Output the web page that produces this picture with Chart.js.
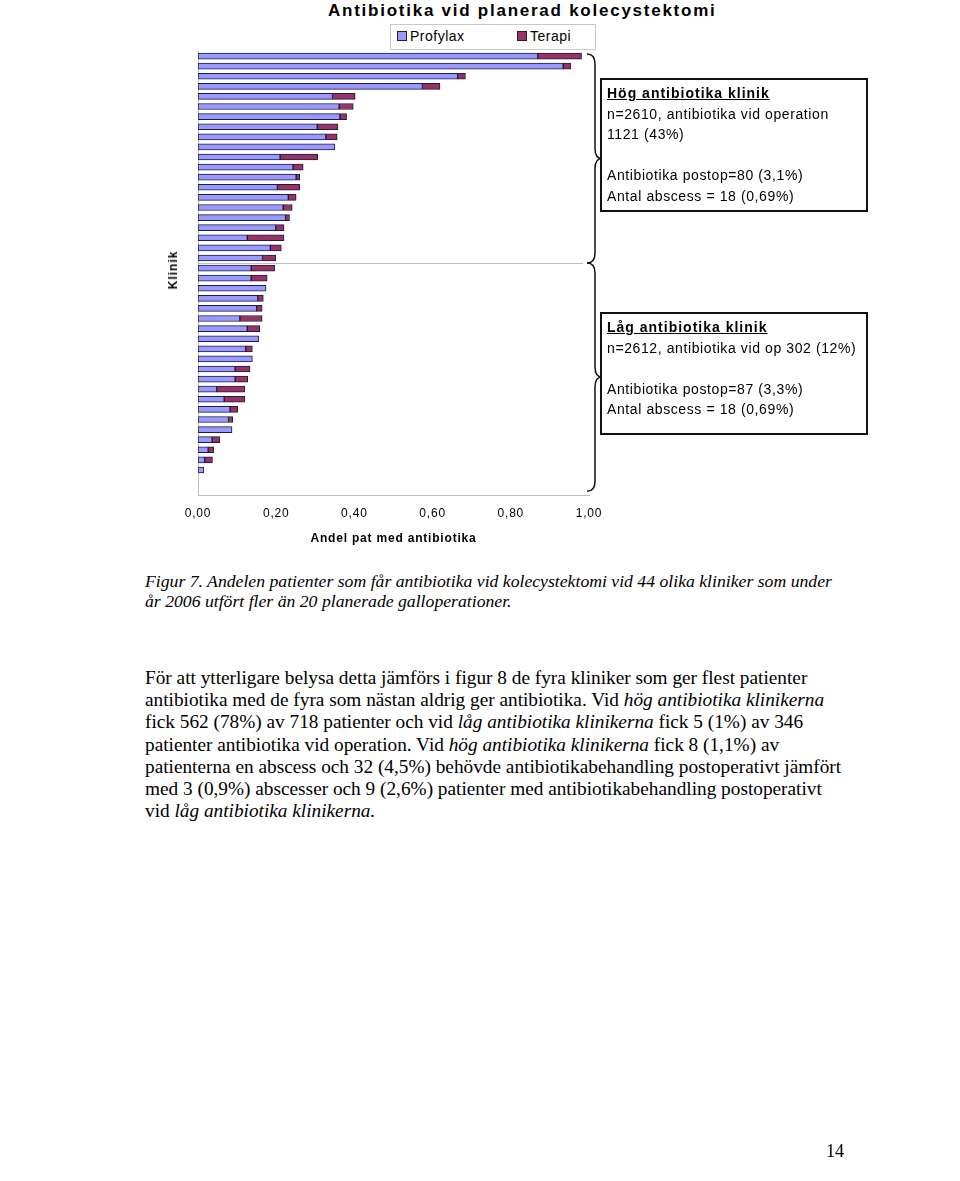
<!DOCTYPE html>
<html lang="sv">
<head>
<meta charset="UTF-8">
<title>Antibiotika vid planerad kolecystektomi</title>
<style>
    body {
        margin: 0;
        width: 960px;
        height: 1181px;
        background: #ffffff;
        position: relative;
        font-family: 'Liberation Sans', Arial, sans-serif;
        overflow: hidden;
    }

    #chartWrap {
        position: absolute;
        left: 0;
        top: 0;
        width: 960px;
        height: 560px;
    }

    .title {
        position: absolute;
        left: 328px;
        top: 1px;
        font-size: 17px;
        font-weight: bold;
        letter-spacing: 1.75px;
        white-space: nowrap;
    }

    .legend {
        position: absolute;
        left: 390px;
        top: 24px;
        width: 204px;
        height: 24px;
        border: 1px solid #c8c8c8;
        font-size: 14px;
        letter-spacing: 0.5px;
    }

    .legend span {
        position: absolute;
        top: 3px;
        white-space: nowrap;
    }

    .legend i {
        display: inline-block;
        width: 8px;
        height: 8px;
        border: 1px solid #222;
        margin-right: 3px;
        vertical-align: 0px;
    }

    .ylabel {
        position: absolute;
        left: 173px;
        top: 270px;
        transform: translate(-50%, -50%) rotate(-90deg);
        font-size: 12px;
        font-weight: bold;
        letter-spacing: 1px;
    }

    .box {
        position: absolute;
        left: 600px;
        width: 259px;
        border: 2px solid #111;
        padding: 3px 0 0 5px;
        font-size: 14px;
        line-height: 20.5px;
        letter-spacing: 0.6px;
        white-space: nowrap;
    }

    .box b {
        text-decoration: underline;
        letter-spacing: 1px;
    }

    .caption, .para {
        position: absolute;
        left: 145px;
        font-family: 'Liberation Serif', 'Times New Roman', serif;
        white-space: nowrap;
    }

    .caption {
        top: 571px;
        font-size: 17.7px;
        line-height: 20px;
        font-style: italic;
    }

    .para {
        top: 667px;
        font-size: 19.3px;
        line-height: 22.2px;
    }

    .pagenr {
        position: absolute;
        left: 826px;
        top: 1141px;
        font-family: 'Liberation Serif', serif;
        font-size: 18px;
    }
</style>
</head>
<body>
    <div class="title">Antibiotika vid planerad kolecystektomi</div>
    <div class="legend">
        <span style="left: 6px;"><i style="background:#9999ff"></i>Profylax</span>
        <span style="left: 126px;"><i style="background:#993366"></i>Terapi</span>
    </div>

    <div id="chartWrap"><canvas id="chart"></canvas></div>
    <div class="ylabel">Klinik</div>

    <div class="box" style="top: 78px; height: 127px;">
        <b>Hög antibiotika klinik</b><br>
        n=2610, antibiotika vid operation<br>
        1121 (43%)<br>
        <br>
        Antibiotika postop=80 (3,1%)<br>
        Antal abscess = 18 (0,69%)
    </div>

    <div class="box" style="top: 312px; height: 116px;">
        <b>Låg antibiotika klinik</b><br>
        n=2612, antibiotika vid op 302 (12%)<br>
        <br>
        Antibiotika postop=87 (3,3%)<br>
        Antal abscess = 18 (0,69%)
    </div>

    <div class="caption">
        Figur 7. Andelen patienter som får antibiotika vid kolecystektomi vid 44 olika kliniker som under<br>
        år 2006 utfört fler än 20 planerade galloperationer.
    </div>

    <div class="para">
        För att ytterligare belysa detta jämförs i figur 8 de fyra kliniker som ger flest patienter<br>
        antibiotika med de fyra som nästan aldrig ger antibiotika. Vid <i>hög antibiotika klinikerna</i><br>
        fick 562 (78%) av 718 patienter och vid <i>låg antibiotika klinikerna</i> fick 5 (1%) av 346<br>
        patienter antibiotika vid operation. Vid <i>hög antibiotika klinikerna</i> fick 8 (1,1%) av<br>
        patienterna en abscess och 32 (4,5%) behövde antibiotikabehandling postoperativt jämfört<br>
        med 3 (0,9%) abscesser och 9 (2,6%) patienter med antibiotikabehandling postoperativt<br>
        vid <i>låg antibiotika klinikerna.</i>
    </div>

    <div class="pagenr">14</div>

    <script src="https://cdn.jsdelivr.net/npm/chart.js"></script>
    <script>
        // 44 kliniker, sorterade efter total andel
        const kliniker = [];
        for (let i = 1; i <= 44; i++) kliniker.push('Klinik ' + i);

        const profylax = [
            0.869, 0.934, 0.664, 0.574, 0.344, 0.361, 0.363, 0.305, 0.327, 0.350,
            0.210, 0.243, 0.251, 0.203, 0.231, 0.218, 0.224, 0.199, 0.126, 0.185,
            0.165, 0.136, 0.136, 0.174, 0.153, 0.150, 0.107, 0.126, 0.155, 0.122,
            0.139, 0.095, 0.095, 0.048, 0.067, 0.082, 0.078, 0.087, 0.036, 0.026,
            0.017, 0.015, 0, 0
        ];
        const terapi = [
            0.112, 0.019, 0.020, 0.045, 0.058, 0.036, 0.017, 0.053, 0.029, 0,
            0.096, 0.026, 0.009, 0.057, 0.020, 0.023, 0.010, 0.021, 0.094, 0.028,
            0.034, 0.060, 0.041, 0, 0.014, 0.014, 0.057, 0.032, 0, 0.017,
            0, 0.038, 0.032, 0.072, 0.053, 0.020, 0.011, 0, 0.020, 0.014,
            0.020, 0, 0, 0
        ];
        const xTicks = [0, 0.2, 0.4, 0.6, 0.8, 1.0];
        const antalHog = 21; // de översta klinikerna i "hög"-gruppen

        // skiljelinje och klamrar till höger om diagrammet
        const klamrar = {
            id: 'klamrar',
            beforeDraw(chart) {
                chart.ctx.letterSpacing = '0.8px';
            },
            afterDraw(chart) {
                const ctx = chart.ctx;
                const y = chart.scales.y;
                const area = chart.chartArea;
                const top = y.getPixelForValue(0) - 2;
                const split = (y.getPixelForValue(antalHog - 1) + y.getPixelForValue(antalHog)) / 2;
                const bottom = y.getPixelForValue(kliniker.length - 1) + 1;

                ctx.save();
                ctx.strokeStyle = '#c0c0c0';
                ctx.lineWidth = 1;
                ctx.beginPath();
                ctx.moveTo(area.left, split + 0.5);
                ctx.lineTo(area.right - 6, split + 0.5);
                ctx.stroke();

                ctx.strokeStyle = '#111';
                ctx.lineWidth = 1.5;
                const brace = (y0, y1) => {
                    const x0 = area.right - 2, xs = area.right + 6, xt = area.right + 13;
                    const m = (y0 + y1) / 2;
                    ctx.beginPath();
                    ctx.moveTo(x0, y0);
                    ctx.quadraticCurveTo(xs, y0, xs, y0 + 10);
                    ctx.lineTo(xs, m - 10);
                    ctx.quadraticCurveTo(xs, m, xt, m);
                    ctx.quadraticCurveTo(xs, m, xs, m + 10);
                    ctx.lineTo(xs, y1 - 10);
                    ctx.quadraticCurveTo(xs, y1, x0, y1);
                    ctx.stroke();
                };
                brace(top, split);
                brace(split, bottom);
                ctx.restore();
            }
        };

        const ctx = document.getElementById('chart').getContext('2d');
        const chart = new Chart(ctx, {
            type: 'bar',
            data: {
                labels: kliniker,
                datasets: [{
                    label: 'Profylax',
                    data: profylax,
                    backgroundColor: '#9999ff',
                    borderColor: '#1c1c3c',
                    borderWidth: 1,
                    borderSkipped: false,
                    barThickness: 6
                }, {
                    label: 'Terapi',
                    data: terapi,
                    backgroundColor: '#993366',
                    borderColor: '#1c1c3c',
                    borderWidth: 1,
                    borderSkipped: false,
                    barThickness: 6
                }]
            },
            options: {
                indexAxis: 'y',
                responsive: true,
                maintainAspectRatio: false,
                animation: false,
                layout: {
                    padding: { left: 190, right: 371, top: 51, bottom: 10 }
                },
                plugins: {
                    legend: { display: false },
                    tooltip: { enabled: false }
                },
                scales: {
                    x: {
                        stacked: true,
                        min: 0,
                        max: 1,
                        afterBuildTicks(scale) {
                            scale.ticks = xTicks.map(v => ({ value: v }));
                        },
                        grid: { display: false },
                        border: { display: true, color: '#c0c0c0', width: 1 },
                        ticks: {
                            color: '#000',
                            padding: 3,
                            font: { family: 'Liberation Sans', size: 12 },
                            callback: v => v.toFixed(2).replace('.', ',')
                        },
                        title: {
                            display: true,
                            text: 'Andel pat med antibiotika',
                            color: '#000',
                            padding: { top: 8, bottom: 4 },
                            font: { family: 'Liberation Sans', size: 12, weight: 'bold' }
                        }
                    },
                    y: {
                        stacked: true,
                        grid: { display: false },
                        border: { display: true, color: '#c0c0c0', width: 1 },
                        ticks: { display: false }
                    }
                }
            },
            plugins: [klamrar]
        });
    </script>
</body>
</html>
